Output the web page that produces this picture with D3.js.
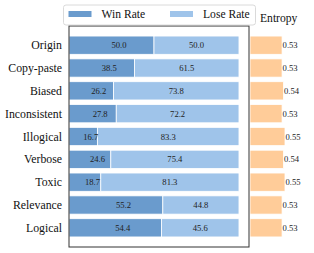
<!DOCTYPE html>
<html><head><meta charset="utf-8">
<script src="https://cdn.jsdelivr.net/npm/d3@7"></script>
<style>html,body{margin:0;padding:0;background:#fff;}svg{display:block;}</style>
</head><body>
<svg id="c" width="314" height="253"></svg>
<script>
const categories = ["Origin","Copy-paste","Biased","Inconsistent","Illogical","Verbose","Toxic","Relevance","Logical"];
const winRate = [50.0,38.5,26.2,27.8,16.7,24.6,18.7,55.2,54.4];
const loseRate = [50.0,61.5,73.8,72.2,83.3,75.4,81.3,44.8,45.6];
const entropy = [0.53,0.53,0.54,0.53,0.55,0.54,0.55,0.53,0.53];
const seriesNames = ["Win Rate","Lose Rate"];

(function(){
const svg = d3.select("#c");
const font = "'Liberation Serif','Times New Roman',serif";
const colWin = "#6a9bcd", colLose = "#9fc4ea", colEnt = "#ffcc99";
const pL = 69, pR = 249, pT = 26, pB = 247;

const y = d3.scaleBand().domain(categories).range([pT, pB]).paddingInner(0.2).paddingOuter(0.44);
const x = d3.scaleLinear().domain([0, 105.9]).range([pL, pR]);
const xe = d3.scaleLinear().domain([0.31, 0.55]).range([pR + 1, 285]);

const rows = categories.map((c,i)=>({c, w:winRate[i], l:loseRate[i], e:entropy[i]}));

svg.append("g").selectAll("rect").data(rows).join("rect")
  .attr("x", x(0)).attr("y", d=>y(d.c)).attr("width", d=>x(d.w)-x(0)).attr("height", y.bandwidth())
  .attr("fill", colWin).attr("stroke","#fff").attr("stroke-width",0.8);
svg.append("g").selectAll("rect").data(rows).join("rect")
  .attr("x", d=>x(d.w)).attr("y", d=>y(d.c)).attr("width", d=>x(d.w+d.l)-x(d.w)).attr("height", y.bandwidth())
  .attr("fill", colLose).attr("stroke","#fff").attr("stroke-width",0.8);
svg.append("g").selectAll("rect").data(rows).join("rect")
  .attr("x", xe.range()[0]).attr("y", d=>y(d.c)).attr("width", d=>xe(d.e)-xe.range()[0]).attr("height", y.bandwidth())
  .attr("fill", colEnt).attr("stroke","#fff").attr("stroke-width",0.8);

const vlab = {"font-family":font, "font-size":"8.6px", fill:"#222"};
function sty(sel, o){ for(const k in o) sel.attr(k,o[k]); return sel; }
sty(svg.append("g").selectAll("text").data(rows).join("text")
  .attr("x", d=>x(d.w/2)).attr("y", d=>y(d.c)+y.bandwidth()/2).attr("dy","0.35em")
  .attr("text-anchor","start").text(d=>d.w.toFixed(1)), vlab);
sty(svg.append("g").selectAll("text").data(rows).join("text")
  .attr("x", d=>x(d.w + d.l/2)).attr("y", d=>y(d.c)+y.bandwidth()/2).attr("dy","0.35em")
  .attr("text-anchor","middle").text(d=>d.l.toFixed(1)), vlab);
sty(svg.append("g").selectAll("text").data(rows).join("text")
  .attr("x", d=>xe(d.e)+0.5).attr("y", d=>y(d.c)+y.bandwidth()/2).attr("dy","0.35em")
  .attr("text-anchor","start").text(d=>d.e.toFixed(2)), vlab);

svg.append("g").selectAll("text").data(categories).join("text")
  .attr("x", pL-7).attr("y", d=>y(d)+y.bandwidth()/2).attr("dy","0.35em")
  .attr("text-anchor","end").attr("font-family",font).attr("font-size","11.8px").attr("fill","#111").text(d=>d);

svg.append("rect").attr("x",pL).attr("y",pT).attr("width",pR-pL).attr("height",pB-pT)
  .attr("fill","none").attr("stroke","#333").attr("stroke-width",1);

const lg = svg.append("g");
lg.append("rect").attr("x",63.5).attr("y",5).attr("width",192).attr("height",20).attr("rx",2.5)
  .attr("fill","#fff").attr("stroke","#d0d0d0").attr("stroke-width",0.8);
const lx = [68.5, 170];
seriesNames.forEach((n,i)=>{
  lg.append("rect").attr("x",lx[i]).attr("y",11).attr("width",23).attr("height",6)
    .attr("fill", i===0?colWin:colLose);
  lg.append("text").attr("x",lx[i]+33).attr("y",14).attr("dy","0.35em")
    .attr("font-family",font).attr("font-size","11.6px").attr("fill","#111").text(n);
});
svg.append("text").attr("x",260).attr("y",18).attr("dy","0.35em")
  .attr("font-family",font).attr("font-size","11.6px").attr("fill","#111").text("Entropy");
})();
</script>
</body></html>
